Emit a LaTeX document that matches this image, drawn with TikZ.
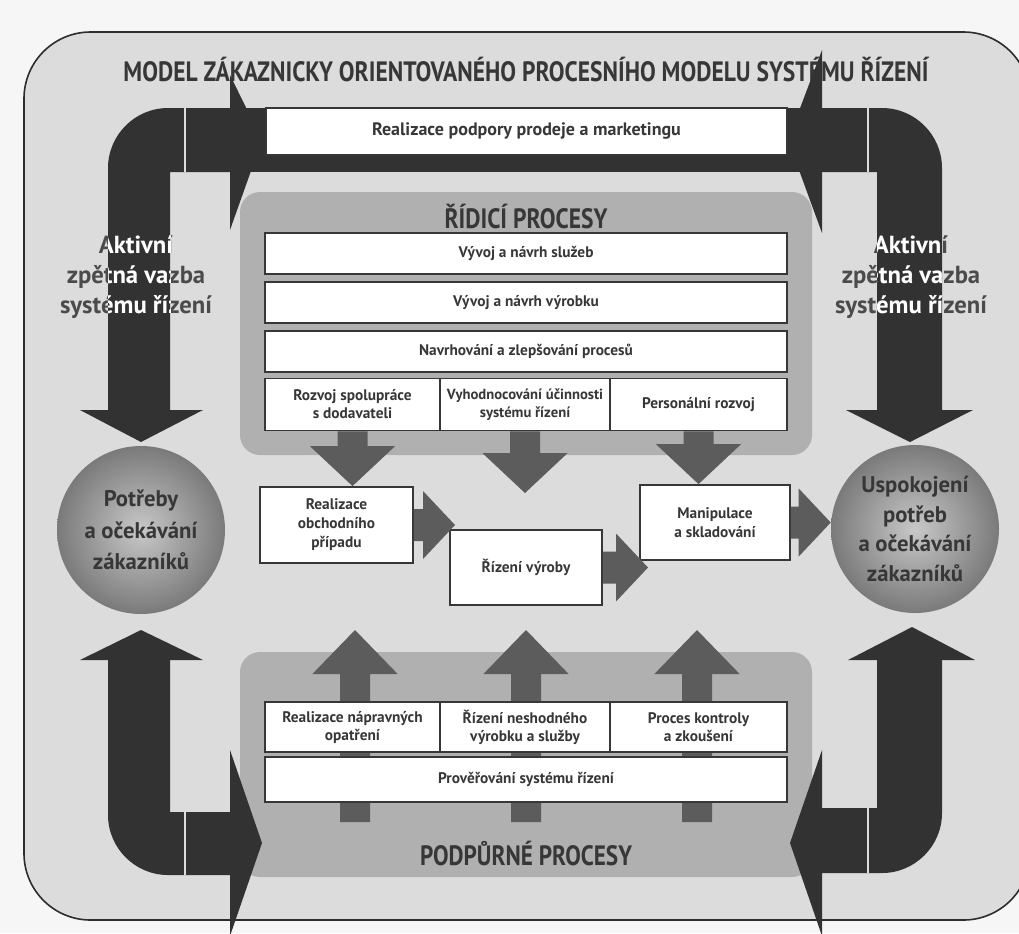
\documentclass[tikz,border=0pt]{standalone}
\usepackage{fontspec}
\setmainfont{PT Sans}
\usetikzlibrary{calc}
\newlength\pxu
\setlength\pxu{0.75pt}
\newcommand\fitw[2]{\resizebox{#1\pxu}{\height}{#2}}
\definecolor{pagebg}{RGB}{246,246,246}
\definecolor{bgc}{RGB}{220,220,220}
\definecolor{framec}{RGB}{45,45,45}
\definecolor{darkarr}{RGB}{50,50,50}
\definecolor{midarr}{RGB}{92,92,92}
\definecolor{panelc}{RGB}{176,176,176}
\definecolor{txt}{RGB}{55,55,55}
\definecolor{akttxt}{RGB}{75,75,75}
\definecolor{boxline}{RGB}{55,55,55}
\definecolor{ballin}{RGB}{200,200,200}
\definecolor{ballout}{RGB}{122,122,122}
\pgfdeclarelayer{back}
\pgfdeclarelayer{mid}
\pgfsetlayers{back,mid,main}
% vertical / horizontal block arrows between two points
\newcommand\downblk[2]{\fill[midarr] let \p1=#1, \p2=#2 in
  (\x1-11.25pt,\y1) -- (\x1-11.25pt,\y2+30pt) -- (\x1-32pt,\y2+30pt) -- (\x1,\y2)
  -- (\x1+32pt,\y2+30pt) -- (\x1+11.25pt,\y2+30pt) -- (\x1+11.25pt,\y1) -- cycle;}
\newcommand\upblk[2]{\fill[midarr] let \p1=#1, \p2=#2 in
  (\x1-11.25pt,\y1) -- (\x1-11.25pt,\y2-33pt) -- (\x1-32pt,\y2-33pt) -- (\x1,\y2)
  -- (\x1+32pt,\y2-33pt) -- (\x1+11.25pt,\y2-33pt) -- (\x1+11.25pt,\y1) -- cycle;}
\newcommand\rightblk[2]{\fill[midarr] let \p1=#1, \p2=#2 in
  (\x1,\y1-12pt) -- (\x2-24pt,\y1-12pt) -- (\x2-24pt,\y1-25.5pt) -- (\x2,\y1)
  -- (\x2-24pt,\y1+25.5pt) -- (\x2-24pt,\y1+12pt) -- (\x1,\y1+12pt) -- cycle;}
\begin{document}
\begin{tikzpicture}[x=0.75pt,y=-0.75pt,
  box/.style={draw=boxline, line width=1.4pt, fill=white, text=txt, align=center,
    inner sep=0pt, font=\bfseries\fontsize{11.5}{13.5}\selectfont},
  midbox/.style={box, font=\bfseries\fontsize{11.5}{14.2}\selectfont},
  ball/.style={circle, minimum size=126pt, inner sep=0pt, shading=radial,
    inner color=ballin, outer color=ballout, text=txt, align=center},
  akt/.style={align=center, inner sep=0pt, font=\bfseries\fontsize{18.5}{22.5}\selectfont},
  heading/.style={inner sep=0pt, text=txt, font=\bfseries\fontsize{21}{24}\selectfont}
]
\useasboundingbox (0,0) rectangle (1019,933);
\begin{pgfonlayer}{back}
\fill[pagebg] (0,0) rectangle (1019,933);
% outer frame
\filldraw[fill=bgc, draw=framec, line width=1.2pt, rounded corners=50pt] (24,32) rectangle (1030,920);
% panels
\fill[panelc, rounded corners=15pt] (240,192) rectangle (812,455);
\fill[panelc, rounded corners=15pt] (240,652) rectangle (812,877);
\end{pgfonlayer}

% headings
\node[heading] (title) at (526,70) {\fitw{805}{MODEL ZÁKAZNICKY ORIENTOVANÉHO PROCESNÍHO MODELU SYSTÉMU ŘÍZENÍ}};
\node[heading] (ridici) at (526,217) {\fitw{163}{ŘÍDICÍ PROCESY}};
\node[heading] (podpurne) at (526,853) {\fitw{212}{PODPŮRNÉ PROCESY}};

% dark feedback arrows
\begin{pgfonlayer}{mid}
\fill[darkarr] (230,108) rectangle (822,172);
\fill[darkarr] (108,410) -- (108,168) .. controls (108,135) and (135,108) .. (168,108) -- (230,108) -- (230,172) -- (170,172) -- (170,410) -- cycle;
\fill[darkarr] (942,410) -- (942,168) .. controls (942,135) and (915,108) .. (882,108) -- (822,108) -- (822,172) -- (877,172) -- (877,410) -- cycle;
\fill[darkarr] (108,660) -- (108,815) .. controls (108,848) and (135,875) .. (168,875) -- (230,875) -- (230,812) -- (170,812) -- (170,660) -- cycle;
\fill[darkarr] (942,660) -- (942,813) .. controls (942,846) and (915,873) .. (882,873) -- (822,873) -- (822,808) -- (877,808) -- (877,660) -- cycle;
\end{pgfonlayer}
% arrow heads (over the title)
\fill[darkarr] (230,75) -- (262,140) -- (230,230) -- cycle;
\fill[darkarr] (822,50) -- (788,140) -- (822,233) -- cycle;
\fill[darkarr] (80,410) -- (203,410) -- (141,442) -- cycle;
\fill[darkarr] (846,410) -- (973,410) -- (910,442) -- cycle;
\fill[darkarr] (80,660) -- (203,660) -- (141,630) -- cycle;
\fill[darkarr] (848,660) -- (975,660) -- (912,627) -- cycle;
\fill[darkarr] (230,750) -- (262,843) -- (230,936) -- cycle;
\fill[darkarr] (822,750) -- (790,843) -- (822,936) -- cycle;
% light seams
\draw[bgc, line width=0.9pt] (185,108) -- (185,172) (868,108) -- (868,172) (185,812) -- (185,875) (868,808) -- (868,873);

% feedback labels: dark on the background, light on the dark shafts
\node[akt, text=akttxt] (aktl) at (136,277) {Aktivní\\zpětná vazba\\systému řízení};
\node[akt, text=akttxt] (aktr) at (911,277) {Aktivní\\zpětná vazba\\systému řízení};
\begin{scope}
  \clip (108,172) rectangle (170,410) (877,172) rectangle (942,410);
  \node[akt, text=white] (aktlw) at (136,277) {Aktivní\\zpětná vazba\\systému řízení};
  \node[akt, text=white] (aktrw) at (911,277) {Aktivní\\zpětná vazba\\systému řízení};
\end{scope}

% top box
\node[box, minimum width=390.75pt, minimum height=35.25pt, font=\bfseries\fontsize{13.5}{15}\selectfont] (mkt) at (526.5,131.5) {Realizace podpory prodeje a marketingu};

% control processes
\node[box, minimum width=391.5pt, minimum height=30.75pt] (sluzeb) at (526,253.5) {Vývoj a návrh služeb};
\node[box, minimum width=391.5pt, minimum height=30.75pt] (vyrobku) at (526,302.5) {Vývoj a návrh výrobku};
\node[box, minimum width=391.5pt, minimum height=30.75pt] (procesu) at (526,351.5) {Navrhování a zlepšování procesů};
\node[box, minimum width=131.25pt, minimum height=39pt] (r1) at (352.5,404.5) {Rozvoj spolupráce\\s dodavateli};
\node[box, minimum width=127.5pt, minimum height=39pt, font=\bfseries\fontsize{11}{13.5}\selectfont] (r2) at (525,404.5) {Vyhodnocování účinnosti\\systému řízení};
\node[box, minimum width=132.75pt, minimum height=39pt] (r3) at (698.5,404.5) {Personální rozvoj};

% middle chain
\node[midbox, minimum width=114.75pt, minimum height=57pt] (obch) at (336.5,525) {Realizace\\obchodního\\případu};
\node[midbox, minimum width=114pt, minimum height=56.25pt] (rizeni) at (526,567.5) {Řízení výroby};
\node[midbox, minimum width=112.5pt, minimum height=56.25pt] (manip) at (715,522.5) {Manipulace\\a skladování};

% support processes
\node[box, minimum width=131.25pt, minimum height=37.5pt] (s1) at (352.5,727) {Realizace nápravných\\opatření};
\node[box, minimum width=127.5pt, minimum height=37.5pt] (s2) at (525,727) {Řízení neshodného\\výrobku a služby};
\node[box, minimum width=132.75pt, minimum height=37.5pt] (s3) at (698.5,727) {Proces kontroly\\a zkoušení};
\node[box, minimum width=391.5pt, minimum height=33.75pt] (prov) at (526,779.5) {Prověřování systému řízení};

% customer circles
\node[ball, font=\bfseries\fontsize{17}{23.5}\selectfont] (need) at (141,530) {Potřeby\\a očekávání\\zákazníků};
\node[ball, font=\bfseries\fontsize{17}{22.2}\selectfont] (satis) at (915,529) {Uspokojení\\potřeb\\a očekávání\\zákazníků};

% free arrow ends
\coordinate (mtip) at (526,493);
\coordinate (t1) at (455,525);
\coordinate (t2) at (648,567.5);
\coordinate (ub1) at (355,822);
\coordinate (ut1) at (355,630);
\coordinate (ub2) at (526,822);
\coordinate (ut2) at (526,630);
\coordinate (ub3) at (697,822);
\coordinate (ut3) at (697,630);

\begin{pgfonlayer}{mid}
\downblk{(r1.south)}{(obch.north)}
\downblk{(r2.south)}{(mtip)}
\downblk{(r3.south)}{(manip.north)}
\upblk{(ub1)}{(ut1)}
\upblk{(ub2)}{(ut2)}
\upblk{(ub3)}{(ut3)}
\end{pgfonlayer}
\rightblk{(obch.east)}{(t1)}
\rightblk{(rizeni.east)}{(t2)}
\rightblk{(manip.east)}{(satis.west)}
\end{tikzpicture}
\end{document}
